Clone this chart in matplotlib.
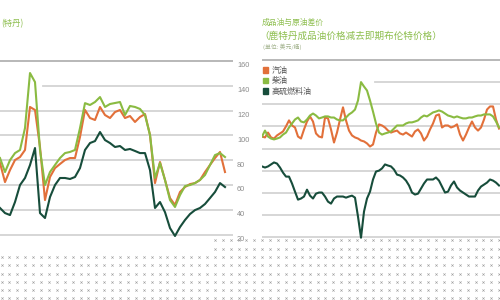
import numpy as np
import matplotlib
matplotlib.use("Agg")
import matplotlib.pyplot as plt
from matplotlib.transforms import blended_transform_factory, offset_copy

W, H = 500, 300
plt.rcParams["font.family"] = ["Noto Sans CJK SC", "DejaVu Sans"]

ORANGE = "#E2703A"; GREEN = "#8ABB42"; DARK = "#174D3B"
GRID = "#D3D3D3"; TOPLINE = "#B2B2B2"; TICK = "#8C8C8C"
TITLE = "#8DBE4E"; UNIT = "#A3B38E"; LEGTXT = "#555555"; DOT = "#A0A0A0"

# ---- data: left panel, Rotterdam product prices ($/bbl) ----------------------
left_ticks = [20, 40, 60, 80, 100, 120, 140, 160]
left_gasoline = [77.7, 62.3, 72.0, 80.1, 82.5, 88.2, 122.9, 120.5, 90.6, 47.8,
                 66.4, 73.6, 76.9, 80.1, 81.7, 81.7, 98.7, 120.5, 114.0, 112.4,
                 122.9, 116.4, 114.0, 118.8, 120.5, 114.0, 115.6, 110.8, 114.8, 117.2,
                 100.3, 61.5, 78.5, 64.0, 49.4, 43.8, 54.3, 58.3, 60.7, 61.5,
                 64.0, 70.4, 76.1, 81.7, 86.6, 70.4]
left_diesel = [81.7, 70.4, 80.0, 85.7, 88.2, 105.9, 150.3, 143.0, 88.2, 59.9,
               70.4, 76.1, 81.7, 85.7, 86.6, 88.2, 105.9, 126.0, 124.5, 126.9,
               130.9, 122.9, 125.3, 126.1, 126.9, 116.4, 123.7, 122.9, 121.3, 116.4,
               100.3, 65.6, 77.7, 64.0, 47.8, 42.2, 51.8, 59.1, 59.9, 61.5,
               64.0, 68.0, 76.1, 84.1, 85.7, 82.5]
left_fueloil = [41.4, 37.3, 35.7, 46.2, 59.9, 65.6, 76.0, 89.8, 37.3, 33.3,
                50.2, 59.9, 65.6, 65.6, 64.8, 66.4, 73.6, 88.2, 93.8, 95.4,
                102.7, 96.2, 93.8, 90.6, 91.4, 88.2, 89.0, 87.4, 85.7, 85.7,
                72.0, 41.4, 46.2, 38.0, 25.2, 18.8, 26.0, 31.7, 36.5, 39.7,
                41.4, 44.6, 49.4, 54.3, 61.5, 58.3]

# ---- data: right panel, product minus dated Brent ($/bbl) --------------------
right_ticks = [-40, -30, -20, -10, 0, 10, 20, 30, 40]
right_gasoline = [5.4, 5.0, 7.2, 5.0, 4.5, 5.9, 6.8, 7.7, 10.0, 12.7,
                  10.4, 9.5, 5.4, 4.5, 8.6, 12.2, 14.5, 12.2, 6.8, 5.4,
                  5.0, 14.0, 13.6, 8.6, 2.7, 7.2, 13.1, 18.6, 12.7, 8.1,
                  5.9, 5.0, 4.5, 3.6, 3.2, 2.3, 0.9, 1.8, 7.2, 10.9,
                  10.4, 9.5, 8.1, 7.2, 7.7, 8.1, 6.8, 6.3, 7.2, 6.3,
                  5.4, 7.7, 8.6, 6.8, 3.6, 5.4, 8.6, 11.3, 14.9, 15.4,
                  9.5, 10.4, 10.4, 9.5, 10.0, 10.9, 6.3, 3.6, 6.3, 9.5,
                  12.2, 9.5, 8.1, 9.5, 13.1, 17.6, 19.0, 19.0, 13.1, 9.0]
right_diesel = [5.4, 8.1, 5.4, 4.5, 4.1, 4.5, 5.0, 6.3, 7.2, 9.5,
                11.3, 13.1, 14.0, 12.2, 11.8, 13.1, 14.9, 15.8, 14.9, 13.6,
                14.0, 14.5, 14.5, 14.0, 14.0, 13.1, 12.7, 12.7, 14.0, 15.4,
                16.3, 17.6, 21.7, 30.0, 28.0, 26.2, 21.7, 16.7, 11.3, 7.2,
                6.3, 6.8, 7.2, 7.7, 9.0, 10.4, 10.4, 10.4, 11.3, 11.8,
                11.8, 12.2, 12.7, 14.0, 14.9, 14.5, 15.4, 16.3, 16.7, 17.2,
                16.7, 15.8, 14.9, 14.5, 14.0, 14.5, 14.0, 13.6, 13.6, 14.0,
                14.0, 14.5, 14.9, 14.9, 15.4, 15.4, 15.4, 14.5, 12.2, 9.5]
right_fueloil = [-8.1, -8.6, -8.1, -7.2, -6.3, -6.8, -8.6, -10.9, -12.7, -12.7,
                 -15.8, -19.5, -23.1, -22.6, -21.7, -18.6, -21.3, -22.6, -20.4, -19.9,
                 -19.9, -21.7, -24.0, -24.9, -22.6, -21.7, -21.7, -21.7, -22.2, -21.7,
                 -21.3, -22.2, -30.8, -40.3, -28.5, -22.6, -19.5, -14.0, -10.4, -10.0,
                 -9.0, -7.2, -7.7, -8.1, -9.5, -11.8, -12.2, -13.1, -14.5, -16.7,
                 -19.9, -20.8, -20.4, -18.1, -15.8, -14.0, -14.0, -14.0, -13.1, -14.5,
                 -17.2, -19.9, -19.5, -16.7, -14.9, -17.6, -19.0, -19.9, -20.8, -21.7,
                 -21.7, -21.7, -19.0, -17.2, -16.3, -15.4, -14.0, -14.5, -15.4, -16.7]
legend_labels = ["汽油", "柴油", "高硫燃料油"]


def box(x0, y0, x1, y1):
    """pixel box (top-left origin) -> figure fraction rect"""
    return [x0 / W, 1 - y1 / H, (x1 - x0) / W, (y1 - y0) / H]


fig = plt.figure(figsize=(W / 100, H / 100), dpi=100)
fig.patch.set_facecolor("white")

# ---- left panel ----------------------------------------------------------------
axl = fig.add_axes(box(0, 54.8, 233, 240.7))
axl.set_xlim(0, 46.6); axl.set_ylim(15, 165)
axl.axis("off")
for t in left_ticks:
    start = 43 / 233 if t == 140 else 0
    axl.axhline(t, xmin=start, xmax=1, color=TOPLINE if t == 160 else GRID, lw=1.3, zorder=1)
tr = offset_copy(blended_transform_factory(axl.transAxes, axl.transData), fig=fig, x=4, y=-5, units="dots")
for t in left_ticks:
    axl.text(1.0, t, str(t), transform=tr, ha="left", va="center", fontsize=5.3,
             color=TICK, family=["Liberation Sans"], clip_on=False)
xl = np.arange(len(left_diesel))
axl.plot(xl, left_fueloil, color=DARK, lw=1.5, zorder=3)
axl.plot(xl, left_gasoline, color=ORANGE, lw=1.5, zorder=4)
axl.plot(xl, left_diesel, color=GREEN, lw=1.5, zorder=5)
fig.text(1 / W, 1 - 24 / H, "(特丹)", ha="left", va="center", fontsize=6.0, color=TITLE)

# ---- right panel ---------------------------------------------------------------
axr = fig.add_axes(box(262, 48.9, 500, 248.1))
axr.set_xlim(0, 79.33); axr.set_ylim(-45, 45)
axr.axis("off")
for t in right_ticks:
    start = (375 - 262) / 238 if t == 30 else 0
    axr.axhline(t, xmin=start, xmax=1, color=TOPLINE if t == 40 else GRID, lw=1.3, zorder=1)
xr = np.arange(len(right_diesel))
axr.plot(xr, right_fueloil, color=DARK, lw=1.5, zorder=3)
axr.plot(xr, right_gasoline, color=ORANGE, lw=1.5, zorder=4)
axr.plot(xr, right_diesel, color=GREEN, lw=1.5, zorder=5)

fig.text(262 / W, 1 - 23 / H, "成品油与原油差价", ha="left", va="center", fontsize=5.6, color=TITLE)
fig.text(259 / W, 1 - 36 / H, "（鹿特丹成品油价格减去即期布伦特价格）", ha="left", va="center",
         fontsize=6.9, color=TITLE)
fig.text(263 / W, 1 - 47 / H, "(单位: 美元/桶)", ha="left", va="center", fontsize=4.2, color=UNIT)
for i, (lab, c) in enumerate(zip(legend_labels, [ORANGE, GREEN, DARK])):
    y = 70 + i * 10.5
    fig.patches.append(plt.Rectangle((263 / W, 1 - (y + 2.5) / H), 5 / W, 5 / H,
                                     transform=fig.transFigure, color=c, figure=fig))
    fig.text(272 / W, 1 - y / H, lab, ha="left", va="center", fontsize=5.8, color=LEGTXT)

# ---- dotted screen along the bottom ---------------------------------------------
axd = fig.add_axes([0, 0, 1, 1])
axd.set_xlim(0, W); axd.set_ylim(H, 0)
axd.axis("off"); axd.patch.set_visible(False)
rows = np.array([240, 248.5, 257, 265, 273.5, 281.5, 290, 298])
cols = np.arange(1.5, W, 7.9)
gx, gy = np.meshgrid(cols, rows)
keep = (gy >= 255) | (gx >= 208)
axd.plot(gx[keep], gy[keep], ls="none", marker="x", ms=1.6, mew=0.45, color=DOT)

fig.savefig("out.png", dpi=100)
